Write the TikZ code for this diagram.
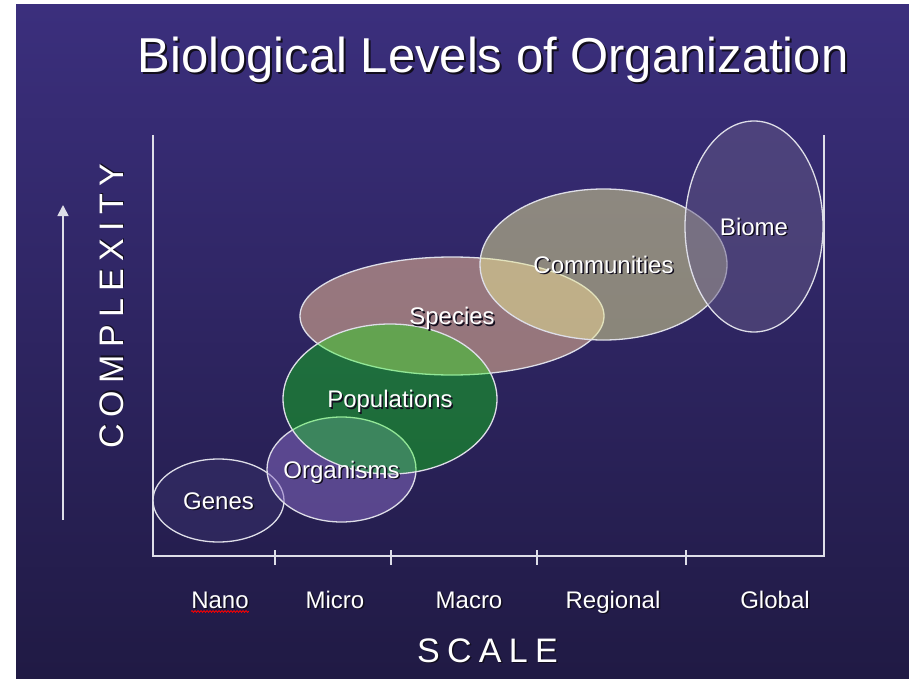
\documentclass[tikz,border=0pt]{standalone}
\usepackage{fontspec}
\setmainfont{Liberation Sans}
\newfontfamily\spacedfont[LetterSpace=21.5]{Liberation Sans}
\usetikzlibrary{shapes.geometric,arrows.meta,decorations.pathmorphing}

\definecolor{bgtop}{RGB}{59,47,125}
\definecolor{bgbot}{RGB}{32,26,68}
\definecolor{rim}{RGB}{222,222,232}
\definecolor{shadowc}{RGB}{18,14,30}
\definecolor{genesfill}{RGB}{55,48,105}
\definecolor{organismsfill}{RGB}{139,110,200}
\definecolor{speciesfill}{RGB}{255,200,152}
\definecolor{populationsfill}{RGB}{6,249,0}
\definecolor{communitiesfill}{RGB}{231,231,147}
\definecolor{biomefill}{RGB}{100,90,134}

% white text with a dark drop shadow
\newcommand{\shadowtext}[2][1.5pt]{\makebox[0pt][l]{\kern#1\raisebox{-#1}{\color{shadowc}#2}}#2}

\tikzset{
  level/.style={ellipse, draw=rim, line width=1.3pt, fill opacity=0.5, inner sep=0pt},
  levellabel/.style={anchor=base, text=white, font=\fontsize{24}{28}\selectfont, inner sep=0pt},
  axislabel/.style={anchor=base, text=white, font=\spacedfont\fontsize{34}{40}\selectfont, inner sep=0pt},
  axisline/.style={draw=rim, line width=1.7pt},
}

\begin{document}
\begin{tikzpicture}[x=1pt, y=-1pt]
    \useasboundingbox (0,0) rectangle (909,679);
    % slide background
    \fill[white] (0,0) rectangle (909,679);
    \shade[top color=bgtop, bottom color=bgbot] (16,5) rectangle (909,679);

    % title
    \node[anchor=base, text=white, font=\fontsize{49}{56}\selectfont, inner sep=0pt] (title) at (493,73) {\shadowtext[2pt]{Biological Levels of Organization}};

    % frame of the chart
    \coordinate (ltop) at (153,135);
    \coordinate (origin) at (153,556);
    \coordinate (xend) at (824,556);
    \coordinate (rtop) at (824,135);
    \draw[axisline] (ltop) -- (origin) -- (xend) -- (rtop);
    \foreach \x in {275,391,537,686}
        \draw[axisline] (\x,550) -- (\x,565);

    % complexity arrow
    \coordinate (cbottom) at (63,520);
    \coordinate (ctop) at (63,205);
    \draw[axisline, -{Triangle[width=11pt,length=11pt]}] (cbottom) -- (ctop);

    % levels, back to front
    \node[level, fill=genesfill, minimum width=131pt, minimum height=83pt] (genes) at (218.5,500.5) {};
    \node[level, fill=organismsfill, minimum width=149pt, minimum height=105pt] (organisms) at (341.5,469.5) {};
    \node[level, fill=speciesfill, minimum width=304pt, minimum height=118pt] (species) at (452,316) {};
    \node[level, fill=populationsfill, fill opacity=0.35, minimum width=214pt, minimum height=150pt] (populations) at (390,399) {};
    \node[level, fill=communitiesfill, minimum width=247pt, minimum height=151pt] (communities) at (603.5,264.5) {};
    \node[level, fill=biomefill, minimum width=138pt, minimum height=211pt] (biome) at (754,226.5) {};

    % level names
    \node[levellabel] (geneslabel) at ([yshift=-8.6pt]genes.center) {\shadowtext{Genes}};
    \node[levellabel] (organismslabel) at ([yshift=-8.6pt]organisms.center) {\shadowtext{Organisms}};
    \node[levellabel] (specieslabel) at ([yshift=-8.6pt]species.center) {\shadowtext{Species}};
    \node[levellabel] (populationslabel) at ([yshift=-8.6pt]populations.center) {\shadowtext{Populations}};
    \node[levellabel] (communitieslabel) at ([yshift=-8.6pt]communities.center) {\shadowtext{Communities}};
    \node[levellabel] (biomelabel) at ([yshift=-8.6pt]biome.center) {\shadowtext{Biome}};

    % scale names
    \node[levellabel] (nano) at (220,608) {\shadowtext{Nano}};
    \node[levellabel] (micro) at (335,608) {\shadowtext{Micro}};
    \node[levellabel] (macro) at (469,608) {\shadowtext{Macro}};
    \node[levellabel] (regional) at (613,608) {\shadowtext{Regional}};
    \node[levellabel] (global) at (775,608) {\shadowtext{Global}};
    \draw[red, line width=0.8pt, decorate, decoration={snake, segment length=3pt, amplitude=0.9pt}]
        ([yshift=-3.5pt]nano.base west) -- ([yshift=-3.5pt]nano.base east);

    % axis names
    \node[axislabel, rotate=90] (complexity) at (123,306.5) {\shadowtext{COMPLEXITY}};
    \node[axislabel] (scale) at (487.5,662) {\shadowtext{SCALE}};
\end{tikzpicture}
\end{document}
